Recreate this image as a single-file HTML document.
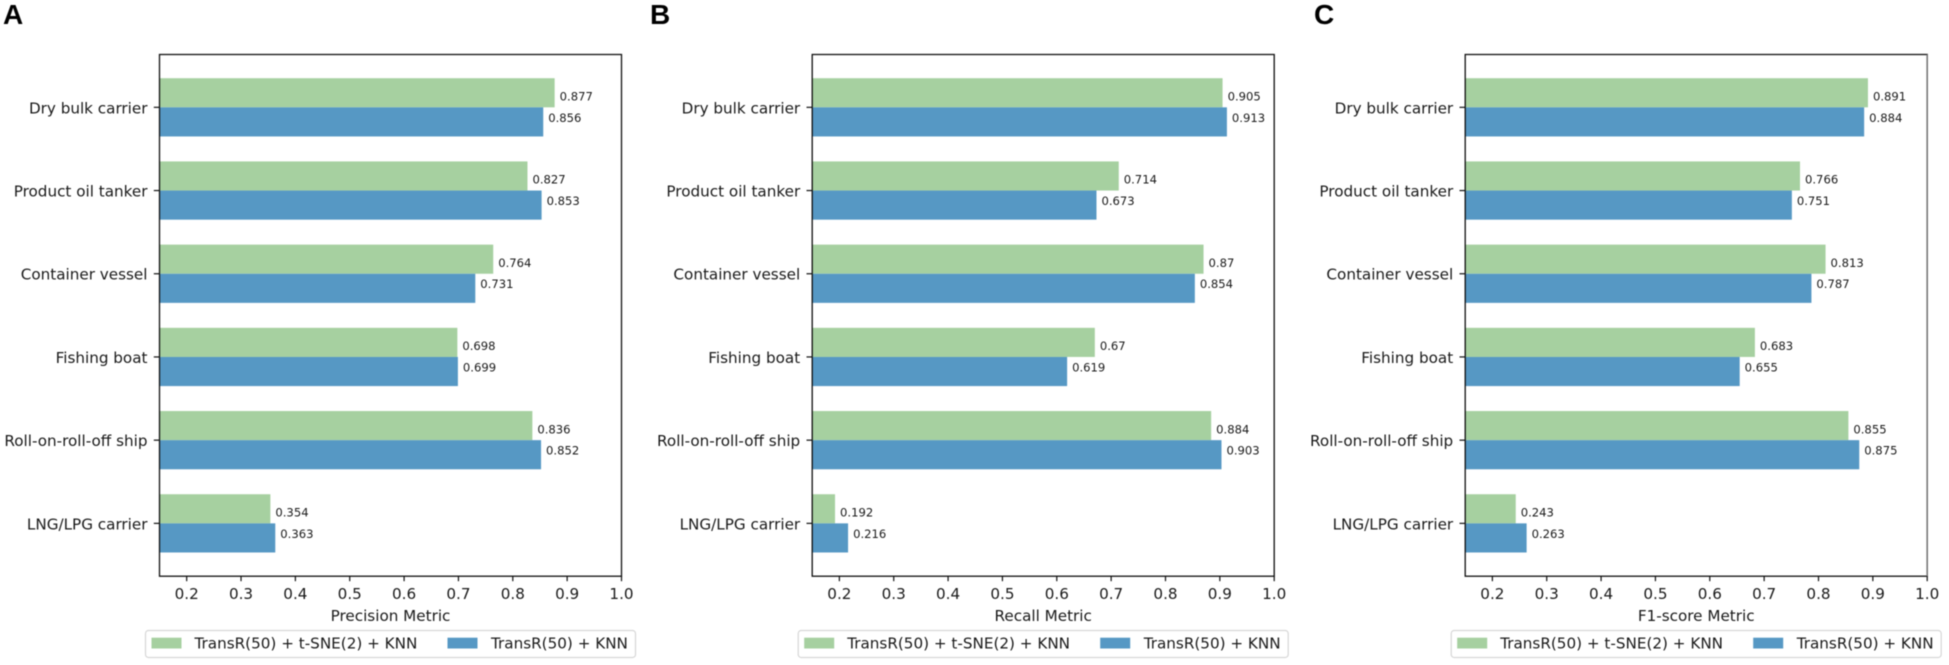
<!DOCTYPE html>
<html lang="en">
<head>
<meta charset="utf-8">
<title>Ship type classification metrics</title>
<style>
html,body{margin:0;padding:0;background:#fff;width:1949px;height:665px;overflow:hidden}
svg{display:block;filter:blur(.45px)}
text{font-family:"DejaVu Sans",sans-serif;fill:#1a1a1a}
</style>
</head>
<body>
<svg id="figure" xmlns="http://www.w3.org/2000/svg" width="1949" height="665" viewBox="0 0 1949 665"></svg>
<script>
const categories = ["Dry bulk carrier", "Product oil tanker", "Container vessel", "Fishing boat", "Roll-on-roll-off ship", "LNG/LPG carrier"];
const seriesNames = ["TransR(50) + t-SNE(2) + KNN", "TransR(50) + KNN"];
const xTicks = [0.2, 0.3, 0.4, 0.5, 0.6, 0.7, 0.8, 0.9, 1.0];
const precisionTsne = [0.877, 0.827, 0.764, 0.698, 0.836, 0.354];
const precisionBase = [0.856, 0.853, 0.731, 0.699, 0.852, 0.363];
const recallTsne = [0.905, 0.714, 0.87, 0.67, 0.884, 0.192];
const recallBase = [0.913, 0.673, 0.854, 0.619, 0.903, 0.216];
const f1Tsne = [0.891, 0.766, 0.813, 0.683, 0.855, 0.243];
const f1Base = [0.884, 0.751, 0.787, 0.655, 0.875, 0.263];
const panelLetters = ["A", "B", "C"];
const panelTitles = ["Precision Metric", "Recall Metric", "F1-score Metric"];
const panelKeys = ["precision", "recall", "f1-score"];

const NS = "http://www.w3.org/2000/svg";
const svg = document.getElementById("figure");
const colors = ["#a6d0a0", "#5698c4"];
const panelLefts = [159.5, 812.2, 1465.2];
const letterX = [3, 650, 1314];
const axisW = 462, axisTop = 54.5, axisBottom = 576.2;
const xMin = 0.15, xMax = 1.0, yMin = -0.635, yMax = 5.635, barH = 0.35;

function make(tag, attrs, parent, text) {
  const el = document.createElementNS(NS, tag);
  for (const k in attrs) el.setAttribute(k, attrs[k]);
  if (text !== undefined) el.textContent = text;
  parent.appendChild(el);
  return el;
}

function drawPanel(p, tsne, base) {
  const left = panelLefts[p];
  const xPos = v => left + (v - xMin) / (xMax - xMin) * axisW;
  const yPos = c => axisTop + (c - yMin) / (yMax - yMin) * (axisBottom - axisTop);

  const g = make("g", {}, svg);
  
  

  const letter = make("text", {x: letterX[p], y: 24, style: 'font-family:"Liberation Sans",sans-serif;font-weight:bold;font-size:28px;fill:#000'}, g, panelLetters[p]);
  
  

  [tsne, base].forEach((vals, s) => {
    vals.forEach((v, c) => {
      const h = barH * (yPos(1) - yPos(0));
      const yTop = s === 0 ? yPos(c) - h : yPos(c);
      const bar = make("rect", {x: left, y: yTop, width: xPos(v) - left, height: h, fill: colors[s]}, g);
      
      
      const labelY = yPos(c) + (s === 0 ? -6.9 : 14.5);
      const label = make("text", {x: xPos(v) + 5, y: labelY, "font-size": 11.6}, g, String(v));
      
      
    });
  });

  const frame = make("rect", {x: left, y: axisTop, width: axisW, height: axisBottom - axisTop, fill: "none", stroke: "#111", "stroke-width": 1.3}, g);
  
  
  if (p === 2) {
    const edge = make("line", {x1: left + axisW, x2: left + axisW, y1: axisTop, y2: axisBottom, stroke: "#777", "stroke-width": 1.6}, g);
    
    
  }

  categories.forEach((name, c) => {
    const y = yPos(c);
    const tick = make("line", {x1: left - 5.7, x2: left, y1: y, y2: y, stroke: "#111", "stroke-width": 1.2}, g);
    
    
    const label = make("text", {x: left - 12, y: y + 1, "font-size": 15.2, "text-anchor": "end", "dominant-baseline": "central"}, g, name);
    
    
  });

  xTicks.forEach(v => {
    const x = xPos(v);
    const tick = make("line", {x1: x, x2: x, y1: axisBottom, y2: axisBottom + 5, stroke: "#111", "stroke-width": 1.2}, g);
    
    
    const label = make("text", {x: x, y: 599, "font-size": 15.2, "text-anchor": "middle"}, g, v.toFixed(1));
    
    
  });

  const title = make("text", {x: left + axisW / 2, y: 621, "font-size": 15.2, "text-anchor": "middle"}, g, panelTitles[p]);
  
  

  const legend = make("g", {}, g);
  
  
  const box = make("rect", {x: left - 14, y: 630.5, width: 490, height: 27, rx: 3, fill: "#fff", stroke: "#d6d6d6", "stroke-width": 1.2}, legend);
  
  
  const patchX = [left - 8, left + 288];
  const textX = [left + 35, left + 331.5];
  seriesNames.forEach((name, s) => {
    const patch = make("rect", {x: patchX[s], y: 637.7, width: 30, height: 10.8, fill: colors[s]}, legend);
    
    
    const text = make("text", {x: textX[s], y: 648.5, "font-size": 15.2}, legend, name);
    
    
  });
}

drawPanel(0, precisionTsne, precisionBase);
drawPanel(1, recallTsne, recallBase);
drawPanel(2, f1Tsne, f1Base);
</script>
</body>
</html>
